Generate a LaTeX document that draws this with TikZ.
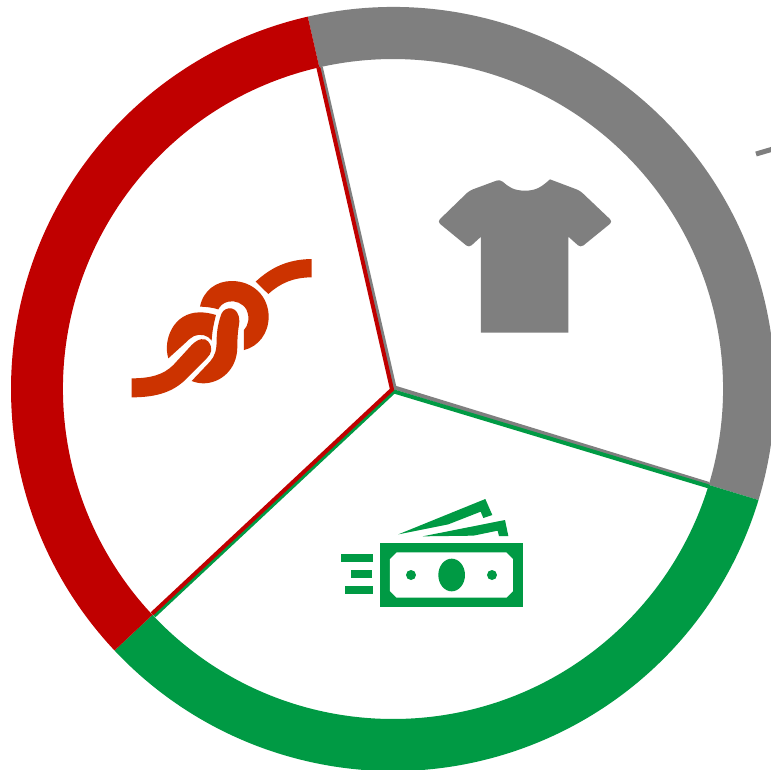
\documentclass[tikz,border=0pt]{standalone}
\usetikzlibrary{calc}
\definecolor{RingRed}{HTML}{C00000}
\definecolor{RingGray}{HTML}{7F7F7F}
\definecolor{RingGreen}{HTML}{009A44}
\definecolor{KnotRed}{HTML}{CC3300}
\tikzset{
  spoke/.style={line width=0.08cm},
  iconpart/.style={draw=none}
}
\begin{document}
\begin{tikzpicture}[x=0.02cm,y=0.02cm]
  \clip (-393,-380) rectangle (378,389);
  \fill[white] (-393,-380) rectangle (378,389);
  % gray part
  \fill[RingGray] (102.9:382) arc[start angle=102.9,end angle=-16.9,radius=382]
    -- (-16.9:330) arc[start angle=-16.9,end angle=102.9,radius=330] -- cycle;
  \draw[spoke,RingGray] ($(102.9:330)+(1.5,0)$) -- (1.5,1.5) -- ($(-16.9:330)+(0,1)$);
  \draw[RingGray,line width=0.1cm] (363,235) -- (380,240);
  % green part
  \fill[RingGreen] (-16.9:382) arc[start angle=-16.9,end angle=-136.8,radius=382]
    -- (-136.8:330) arc[start angle=-136.8,end angle=-16.9,radius=330] -- cycle;
  \draw[spoke,RingGreen] ($(-16.9:330)+(0,-1.5)$) -- (1,-2.5) -- ($(-136.8:330)+(1.5,-1)$);
  % red part
  \fill[RingRed] (-136.8:382) arc[start angle=223.2,end angle=102.9,radius=382]
    -- (102.9:330) arc[start angle=102.9,end angle=223.2,radius=330] -- cycle;
  \draw[spoke,RingRed] ($(102.9:330)+(-1,0)$) -- (-1,-0.5) -- ($(-136.8:330)+(-0.5,1)$);
  % shirt
  \begin{scope}[shift={(37,219)},xscale=1/3,yscale=-1/3]
    \fill[RingGray,iconpart] (210,28) .. controls (235,50) and (250,62) .. (285,62)
      .. controls (320,62) and (335,50) .. (360,28)
      [rounded corners=2pt] -- (450,62) -- (548,155) -- (452,233) [sharp corners] -- (415,200)
      -- (415,488) -- (153,488) -- (153,200)
      [rounded corners=2pt] -- (117,233) -- (22,155) -- (118,62) -- cycle;
  \end{scope}
  % money
  \begin{scope}[shift={(-63,-101)},xscale=1/3,yscale=-1/3]
    \fill[RingGreen,iconpart] (150,158) rectangle (578,352);
    \fill[white,iconpart] (200,187) -- (529,187) -- (549,207) -- (549,303) -- (529,323)
      -- (200,323) -- (180,303) -- (180,207) -- cycle;
    \fill[RingGreen,iconpart] (365,255) ellipse[x radius=40,y radius=49];
    \fill[RingGreen,iconpart] (243,255) circle[radius=15];
    \fill[RingGreen,iconpart] (486,255) circle[radius=15];
    \fill[RingGreen,iconpart] (33,192) rectangle (130,216);
    \fill[RingGreen,iconpart] (62,240) rectangle (127,264);
    \fill[RingGreen,iconpart] (45,288) rectangle (130,312);
    \fill[RingGreen,iconpart] (205,133) -- (466,27) -- (487,75) -- (460,84) -- (452,65)
      -- (355,103) -- cycle;
    \fill[RingGreen,iconpart] (278,139) -- (525,90) -- (535,138) -- (507,138) -- (503,122)
      -- (430,137) -- cycle;
  \end{scope}
  % knot
  \begin{scope}[shift={(-273,139)},xscale=1/3,yscale=-1/3]
    \fill[KnotRed,iconpart] (575,27) .. controls (500,28) and (450,55) .. (407,95)
      -- (445,132) .. controls (480,100) and (520,82) .. (575,82) -- cycle;
    \fill[KnotRed,iconpart] (240,170) .. controls (250,120) and (290,93) .. (335,93)
      .. controls (400,93) and (446,140) .. (446,200)
      .. controls (446,250) and (415,290) .. (372,300) -- (372,240)
      .. controls (385,225) and (390,205) .. (380,180)
      .. controls (370,160) and (345,150) .. (325,155)
      .. controls (310,158) and (300,168) .. (295,178)
      .. controls (275,172) and (255,170) .. (240,170) -- cycle;
    \fill[KnotRed,iconpart] (305,190) .. controls (315,168) and (358,165) .. (358,215)
      .. controls (358,225) and (352,240) .. (352,290)
      .. controls (352,360) and (300,400) .. (250,400)
      .. controls (238,400) and (225,397) .. (215,393) -- (270,335)
      .. controls (285,318) and (290,300) .. (290,270)
      .. controls (290,240) and (297,210) .. (305,190) -- cycle;
    \fill[KnotRed,iconpart] (145,325) .. controls (128,270) and (160,187) .. (240,187)
      .. controls (255,187) and (272,190) .. (288,195)
      .. controls (280,225) and (276,250) .. (275,272)
      .. controls (265,255) and (240,250) .. (222,258)
      .. controls (212,263) and (205,270) .. (198,277) -- cycle;
    \fill[KnotRed,iconpart] (35,385) .. controls (90,385) and (130,375) .. (160,345)
      -- (215,285) .. controls (235,265) and (255,262) .. (265,275)
      .. controls (280,295) and (275,310) .. (260,325) -- (190,395)
      .. controls (150,430) and (100,442) .. (35,442) -- cycle;
  \end{scope}
\end{tikzpicture}
\end{document}
